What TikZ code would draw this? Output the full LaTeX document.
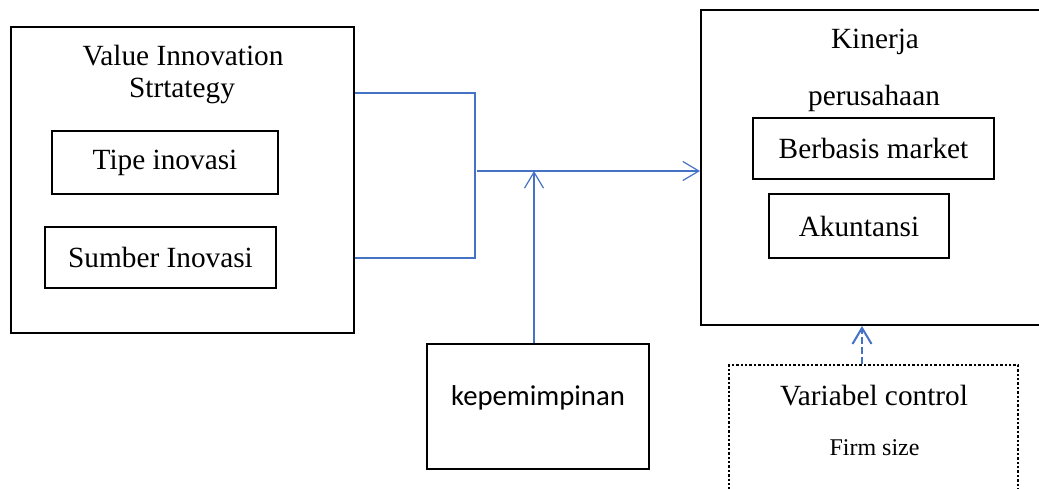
\documentclass[tikz,border=0pt]{standalone}
\usepackage{fontspec}
\setmainfont{Liberation Serif}
\newfontfamily\calibrifont{Carlito}
\usetikzlibrary{arrows.meta}
\definecolor{linkblue}{HTML}{4472C4}
\tikzset{>={Straight Barb[length=16pt,width=19pt]}}
\tikzset{box/.style={draw, line width=1.2pt, inner sep=0pt},
  boxtext/.style={box, font=\fontsize{29.3}{34}\selectfont},
  txt/.style={anchor=base, inner sep=0pt, font=\fontsize{29.3}{34}\selectfont},
  link/.style={draw=linkblue, line width=1.2pt}}

\begin{document}
\begin{tikzpicture}[x=1pt, y=-1pt]
    \clip (0,0) rectangle (1039,488);
	% left box
	\node [box, minimum width=343pt, minimum height=306pt] (vis) at (182.5,180) {};
	\node [txt] (vistitle) at (183,65) {Value Innovation};
	\node [txt] (vistitleb) at (182,97) {Strtategy};
	\node [boxtext, minimum width=226pt, minimum height=63pt] (tipe) at (165,162.5) {Tipe inovasi};
	\node [boxtext, minimum width=231pt, minimum height=61pt] (sumber) at (160.5,257.5) {Sumber Inovasi};
	% right box
	\node [draw, line width=2pt, inner sep=0pt, minimum width=344pt, minimum height=315pt] (kin) at (873,167.5) {};
	\node [txt] (kintitle) at (875,48) {Kinerja};
	\node [txt] (kintitleb) at (874,105) {perusahaan};
	\node [boxtext, minimum width=241pt, minimum height=61pt] (market) at (873.5,148.5) {Berbasis market};
	\node [boxtext, minimum width=180pt, minimum height=64pt] (akun) at (859,226) {Akuntansi};
	% moderator
	\node [box, minimum width=222pt, minimum height=125pt] (kep) at (538,406.5) {};
	\node [txt, font=\calibrifont\fontsize{28.7}{34}\selectfont] (keptext) at (538,405) {kepemimpinan};
	% control
	\node [draw, line width=2.4pt, dash pattern=on 2.4pt off 2pt, inner sep=0pt, minimum width=289pt, minimum height=140pt] (ctrl) at (873.5,435) {};
	\node [txt] (ctrltext) at (874,405) {Variabel control};
	\node [txt, font=\fontsize{24}{28}\selectfont] (firm) at (874.5,455) {Firm size};
	% links
	\coordinate (jt) at (475,93);
	\coordinate (jb) at (475,258);
	\coordinate (jm) at (477,171);
	\draw [link] (vis.east |- jt) -- (jt) -- (jb) -- (vis.east |- jb);
	\draw [link, ->] (jm) -- (kin.west |- jm);
	\draw [link, ->] ([xshift=-4pt]kep.north) -- ([xshift=-4pt]kep.north |- jm);
	\draw [link, ->, line width=2pt, dash pattern=on 7pt off 3pt] ([xshift=-11.5pt]ctrl.north) -- ([xshift=-11.5pt]ctrl.north |- kin.south);
\end{tikzpicture}
\end{document}
